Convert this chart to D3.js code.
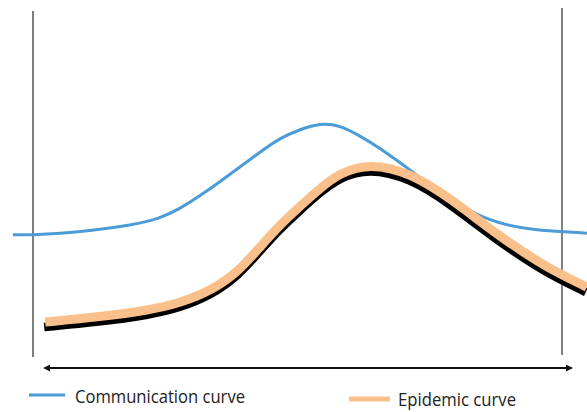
<!DOCTYPE html>
<html>
<head>
<meta charset="utf-8">
<script src="https://cdn.jsdelivr.net/npm/d3@7"></script>
<style>
  body { margin: 0; background: #fff; }
  svg { display: block; }
</style>
</head>
<body>
<div id="container"></div>
<script>
/* CONSTANTS AND GLOBALS */
const width = 587;
const height = 412;

// time runs 0..100 between the two vertical lines, level 0..100 bottom to top
const commX = [-3.8, 0, 5.1, 10.8, 18.3, 24, 27.8, 31.6, 35.3, 39.1, 42.9, 46.7, 50.5, 54.3, 58, 61.8, 65.6, 71.8, 78.8, 86.4, 94, 104.7];
const commY = [35.3, 35.3, 35.7, 36.5, 38.0, 40.0, 42.9, 46.6, 50.6, 54.9, 59.2, 63.3, 65.8, 67.6, 67.0, 63.9, 60.4, 53.5, 45.4, 39.0, 36.7, 35.8];

const epiX = [2.3, 12.7, 22.1, 27.8, 34, 39.1, 42.9, 46.7, 50.5, 54.3, 58, 63.7, 71.3, 78.8, 88.3, 95.8, 100, 104.7];
const epiY = [10.1, 11.6, 13.6, 15.6, 19.4, 25.1, 31.8, 38.2, 43.6, 48.8, 53.2, 56.0, 53.2, 46.0, 34.7, 27.2, 23.7, 20.2];

const legendLabels = ["Communication curve", "Epidemic curve"];

const commColor = "#4b9cd6";
const epiColor = "#f9c08c";

let svg, xScale, yScale;

function init() {
  xScale = d3.scaleLinear().domain([0, 100]).range([33, 562]);
  yScale = d3.scaleLinear().domain([0, 100]).range([357, 11]);

  svg = d3.select("#container")
    .append("svg")
      .attr("width", width)
      .attr("height", height);

  const defs = svg.append("defs");
  ["start", "end"].forEach(k => {
    defs.append("marker")
      .attr("id", "arrow-" + k)
      .attr("viewBox", "0 0 10 10")
      .attr("refX", 8).attr("refY", 5)
      .attr("markerWidth", 3.5).attr("markerHeight", 3.5)
      .attr("orient", k === "start" ? "auto-start-reverse" : "auto")
    .append("path")
      .attr("d", "M0,0 L10,5 L0,10 z")
      .attr("fill", "#111");
  });

  draw();
}

function draw() {
  // the two vertical boundary lines
  svg.append("line")
    .attr("x1", xScale(0)).attr("x2", xScale(0))
    .attr("y1", 11).attr("y2", 357)
    .attr("stroke", "#555").attr("stroke-width", 1.5);
  svg.append("line")
    .attr("x1", xScale(100)).attr("x2", xScale(100))
    .attr("y1", 8).attr("y2", 355)
    .attr("stroke", "#555").attr("stroke-width", 1.5);

  // time arrow
  svg.append("line")
    .attr("x1", xScale(2.2)).attr("x2", xScale(101.8))
    .attr("y1", 368).attr("y2", 368)
    .attr("stroke", "#111").attr("stroke-width", 2)
    .attr("marker-start", "url(#arrow-start)")
    .attr("marker-end", "url(#arrow-end)");

  const line = d3.line()
    .x(d => xScale(d[0]))
    .y(d => yScale(d[1]))
    .curve(d3.curveBasis);

  const commData = d3.zip(commX, commY);
  const epiData = d3.zip(epiX, epiY);

  svg.append("path")
    .attr("d", line(commData))
    .attr("fill", "none")
    .attr("stroke", commColor)
    .attr("stroke-width", 3);

  // black shadow under the epidemic curve
  svg.append("path")
    .attr("d", line(epiData))
    .attr("transform", "translate(-1,5)")
    .attr("fill", "none")
    .attr("stroke", "#000")
    .attr("stroke-width", 8.5);

  svg.append("path")
    .attr("d", line(epiData))
    .attr("fill", "none")
    .attr("stroke", epiColor)
    .attr("stroke-width", 9);

  // legend
  const legend = svg.append("g").attr("font-family", "'Open Sans', sans-serif")
    .attr("font-size", 17.5).attr("fill", "#222");

  legend.append("line")
    .attr("x1", 29).attr("x2", 65).attr("y1", 395).attr("y2", 395)
    .attr("stroke", commColor).attr("stroke-width", 3);
  legend.append("text").attr("x", 75).attr("y", 403)
    .attr("textLength", 170).attr("lengthAdjust", "spacingAndGlyphs")
    .text(legendLabels[0]);

  legend.append("line")
    .attr("x1", 349).attr("x2", 390).attr("y1", 399).attr("y2", 399)
    .attr("stroke", epiColor).attr("stroke-width", 5);
  legend.append("text").attr("x", 398).attr("y", 406)
    .attr("textLength", 118).attr("lengthAdjust", "spacingAndGlyphs")
    .text(legendLabels[1]);
}

init();
</script>
</body>
</html>
